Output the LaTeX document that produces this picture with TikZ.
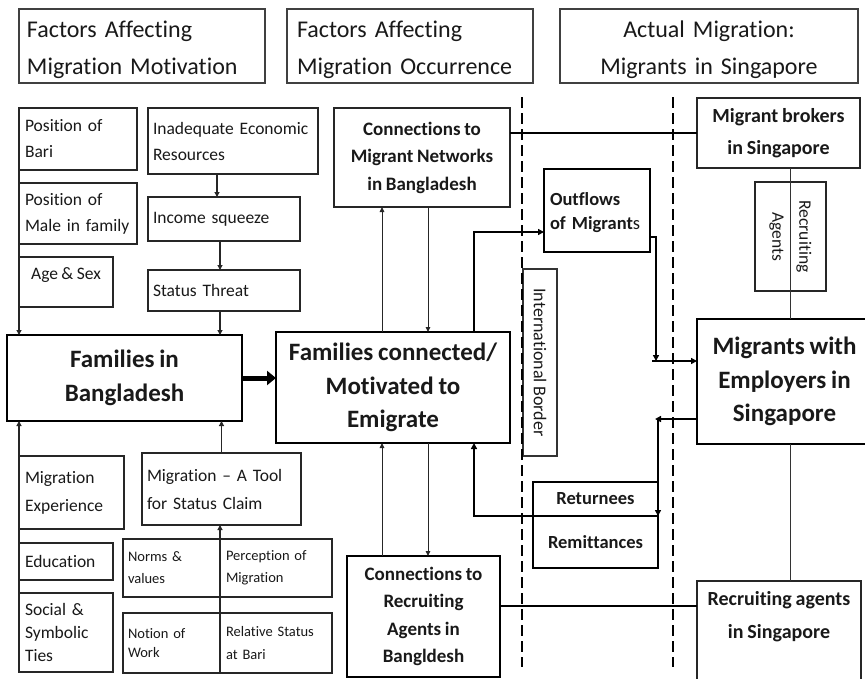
\documentclass[tikz,border=0pt]{standalone}
\usepackage{fontspec}
\setmainfont{Carlito}[Ligatures=NoCommon, WordSpace=0.85]
\usetikzlibrary{arrows.meta,calc}

\begin{document}
\begin{tikzpicture}[x=1pt,y=-1pt,
  every node/.style={inner sep=0pt, outer sep=0pt, text=black!90},
  hdr/.style={draw=black!75, line width=1.2pt, minimum height=74pt, text height=24pt, font=\fontsize{24}{37}\selectfont},
  sbox/.style={draw=black!85, line width=1.3pt, align=left, font=\fontsize{17.5}{26}\selectfont},
  tbox/.style={draw=black!85, line width=1.3pt, align=left, font=\fontsize{14.5}{22}\selectfont},
  bbox/.style={draw=black!85, line width=1.3pt, align=center, font=\bfseries\fontsize{19}{27.5}\selectfont},
  kbox/.style={draw=black, line width=1.9pt, align=center, font=\bfseries\fontsize{18.5}{23.5}\selectfont},
  mainbox/.style={draw=black, line width=2.1pt, align=center, font=\bfseries\fontsize{25}{33.5}\selectfont},
  arr/.style={draw=black!85, line width=1.1pt, -{Triangle[length=5pt,width=5pt]}},
  thinarr/.style={draw=black!85, line width=1pt, -{Triangle[length=5pt,width=4.5pt]}},
  arrtwo/.style={draw=black, line width=1.9pt, -{Triangle[length=6pt,width=6pt]}},
  fatarr/.style={draw=black, line width=5pt, -{Triangle[length=9pt,width=14pt]}},
  link/.style={draw=black, line width=1.9pt},
  thinline/.style={draw=black!80, line width=1pt},
  border/.style={draw=black, line width=2.8pt, dash pattern=on 11pt off 5pt}
]
\useasboundingbox (0,0) rectangle (865,678);
\clip (0,0) rectangle (865,678);
\fill[white] (0,0) rectangle (865,678);

% column headers
\node[hdr, minimum width=246pt, text width=230pt, align=left] (h1) at (142,46) {Factors Affecting\\Migration Motivation};
\node[hdr, minimum width=246pt, text width=226pt, align=left] (h2) at (410,46) {Factors Affecting\\Migration Occurrence};
\node[hdr, minimum width=298pt, text width=280pt, align=center] (h3) at (709,46) {Actual Migration:\\Migrants in Singapore};

% motivation factors, upper part
\node[sbox, minimum width=118pt, minimum height=62pt, text width=106pt] (bari) at (78,139) {Position of\\Bari};
\node[sbox, minimum width=170pt, minimum height=66pt, text width=160pt] (econ) at (233,141) {Inadequate Economic\\Resources};
\node[sbox, minimum width=118pt, minimum height=61pt, text width=106pt] (male) at (78,213.5) {Position of\\Male in family};
\node[sbox, minimum width=152pt, minimum height=44pt, text width=142pt] (income) at (224,219) {Income squeeze};
\node[sbox, minimum width=94pt, minimum height=50pt, align=center, text depth=17pt] (agesex) at (66,282) {Age \& Sex};
\node[sbox, minimum width=152pt, minimum height=41pt, text width=142pt] (threat) at (224,290.5) {Status Threat};

% central family boxes
\node[mainbox, minimum width=235pt, minimum height=86pt] (fam) at (124.5,378) {Families in\\Bangladesh};
\node[mainbox, minimum width=234pt, minimum height=111pt] (famc) at (393,387.5) {Families connected/\\Motivated to\\Emigrate};

% motivation factors, lower part
\node[sbox, minimum width=105pt, minimum height=73pt, text width=93pt, font=\fontsize{17.5}{28}\selectfont] (migexp) at (71.5,492.5) {Migration\\Experience};
\node[sbox, minimum width=159pt, minimum height=72pt, text width=149pt, font=\fontsize{17.5}{28}\selectfont] (tool) at (221.5,489) {Migration – A Tool\\for Status Claim};
\node[sbox, minimum width=94pt, minimum height=37pt, text width=82pt] (edu) at (66,561.5) {Education};
\node[sbox, minimum width=94pt, minimum height=79pt, text width=82pt, font=\fontsize{17.5}{23}\selectfont] (social) at (66,632.5) {Social \&\\Symbolic\\Ties};
\node[tbox, minimum width=97pt, minimum height=58pt, text width=87pt] (norms) at (171.5,568) {Norms \&\\values};
\node[tbox, minimum width=112pt, minimum height=58pt, text width=100pt] (percep) at (276,568) {Perception of\\Migration};
\node[tbox, minimum width=97pt, minimum height=60pt, text width=87pt, font=\fontsize{14.5}{19}\selectfont] (notion) at (171.5,643) {Notion of\\Work};
\node[tbox, minimum width=112pt, minimum height=60pt, text width=100pt, font=\fontsize{14.5}{23}\selectfont] (relst) at (276,643) {Relative Status\\at Bari};

% occurrence factors
\node[bbox, minimum width=176pt, minimum height=99pt] (netw) at (422,157.5) {Connections to\\Migrant Networks\\in Bangladesh};
\node[bbox, draw=black, line width=1.8pt, minimum width=153pt, minimum height=121pt] (recr) at (423.5,616.5) {Connections to\\Recruiting\\Agents in\\Bangldesh};

% flows across the border
\node[kbox, minimum width=106pt, minimum height=83pt, text width=94pt, align=left, text depth=22pt] (outfl) at (597,210.5) {Outflows\\of Migrant{\mdseries s}};
\node[sbox, draw=black!80, line width=1.2pt, rotate=-90, minimum width=187pt, minimum height=34pt, align=center, font=\fontsize{18}{22}\selectfont] (intl) at (540,362.5) {International Border};
\node[kbox, minimum width=125pt, minimum height=34pt] (rtr) at (595.5,499) {Returnees};
\node[kbox, minimum width=125pt, minimum height=52pt] (rem) at (595.5,542) {Remittances};

% Singapore side
\node[bbox, minimum width=163pt, minimum height=70pt, font=\bfseries\fontsize{20}{32}\selectfont] (brok) at (778.5,133) {Migrant brokers\\in Singapore};
\node[sbox, rotate=-90, minimum width=109pt, minimum height=71pt, align=center, font=\fontsize{17.5}{27}\selectfont] (ragt) at (790.5,236.5) {Recruiting\\Agents};
\node[mainbox, minimum width=175pt, minimum height=125pt] (mwe) at (784.5,381.5) {Migrants with\\Employers in\\Singapore};
\node[bbox, minimum width=164pt, minimum height=103pt, font=\bfseries\fontsize{20}{33}\selectfont, text depth=36pt] (rsg) at (779,632.5) {Recruiting agents\\in Singapore};

% international border lines
\draw[border] (522,97) -- (522,667);
\draw[border] (673,97) -- (673,667);

% arrows into Families in Bangladesh
\draw[arr] (bari.south west) -- (bari.south west |- fam.north);
\draw[arr] ($(econ.south -| income.north)+(-7,0)$) -- ($(income.north)+(-7,0)$);
\draw[arr] ($(income.south)+(-4,0)$) -- ($(threat.north)+(-4,0)$);
\draw[arr] ($(threat.south)+(-4,0)$) -- ($(threat.south |- fam.north)+(-4,0)$);
\draw[arr] (social.south west) -- (social.south west |- fam.south);
\draw[arr] (relst.south west) -- (relst.south west |- tool.south);
\draw[arr] (tool.north) -- (tool.north |- fam.south);
\draw[fatarr] (fam.east) -- (fam.east -| famc.west);

% two-way links with the connection boxes
\draw[thinarr] ($(famc.north)+(-11,0)$) -- ($(famc.north |- netw.south)+(-11,0)$);
\draw[thinarr] ($(famc.north |- netw.south)+(35,0)$) -- ($(famc.north)+(35,0)$);
\draw[thinarr] ($(famc.south |- recr.north)+(-11,0)$) -- ($(famc.south)+(-11,0)$);
\draw[thinarr] ($(famc.south)+(35,0)$) -- ($(famc.south |- recr.north)+(35,0)$);

% links to the Singapore side
\draw[link] (brok.west -| netw.east) -- (brok.west);
\draw[link] ($(recr.east)+(0,-10.5)$) -- ($(recr.east -| rsg.west)+(0,-10.5)$);

% outflow of migrants
\coordinate (oj) at (656,361);
\draw[arrtwo] ($(famc.north east)+(-36,0)$) |- ($(outfl.west)+(0,21.5)$);
\draw[arrtwo] ($(outfl.east)+(0,26.5)$) -| (oj);
\draw[arrtwo] ($(oj)+(-4,0)$) -- (oj -| mwe.west);

% returnees and remittances
\coordinate (rj) at (658,419);
\draw[arrtwo] ($(mwe.west)+(0,37.5)$) -- ($(rj)+(-3,0)$);
\draw[arrtwo] (rj) -- (rj |- rtr.south);
\draw[arrtwo] (rtr.south east) -| ($(famc.south east)+(-36,0)$);

% brokers, employers and agents in Singapore
\draw[thinline] (ragt.center |- brok.south) -- (ragt.center |- mwe.north);
\draw[thinline] (ragt.center |- mwe.south) -- (ragt.center |- rsg.north);
\end{tikzpicture}
\end{document}
